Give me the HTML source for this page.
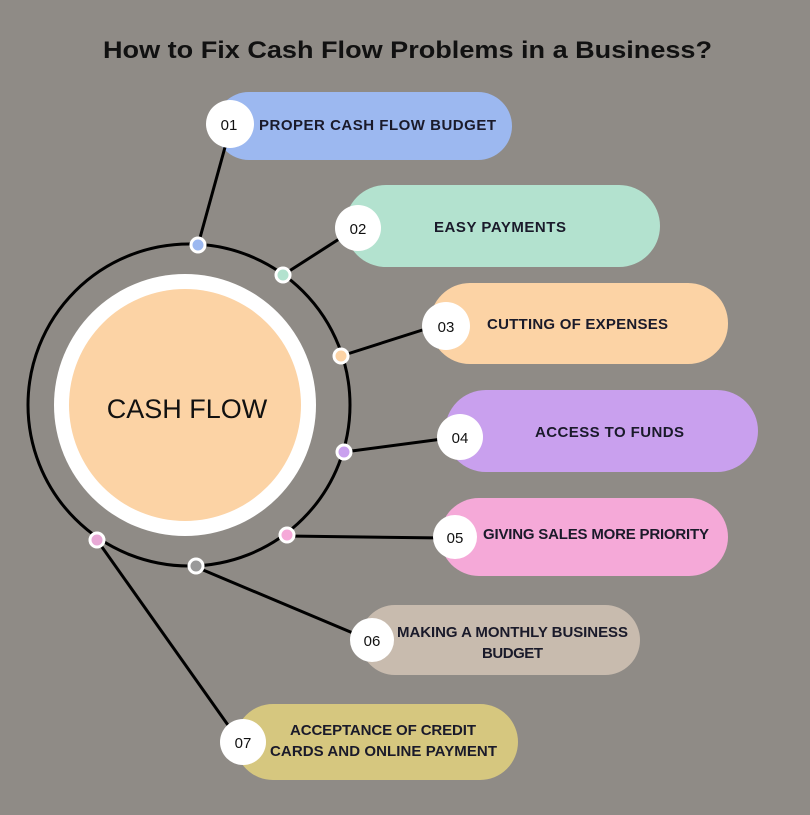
<!DOCTYPE html>
<html><head><style>
body{margin:0;width:810px;height:810px;background:#8f8b86;overflow:hidden;font-family:"Liberation Sans",sans-serif}
</style></head><body>
<svg width="810" height="810" viewBox="0 0 810 810" xmlns="http://www.w3.org/2000/svg" font-family="Liberation Sans, sans-serif" font-weight="bold">
<rect width="810" height="810" fill="#8f8b86"/>
<text x="103" y="58" font-size="24" fill="#111" textLength="609" lengthAdjust="spacingAndGlyphs">How to Fix Cash Flow Problems in a Business?</text>
<!-- pills -->
<rect x="215" y="92" width="297" height="68" rx="34" fill="#9cb8f0"/>
<rect x="345" y="185" width="315" height="82" rx="41" fill="#b3e2cf"/>
<rect x="430" y="283" width="298" height="81" rx="40" fill="#fcd3a5"/>
<rect x="445" y="390" width="313" height="82" rx="41" fill="#c9a0ee"/>
<rect x="440" y="498" width="288" height="78" rx="39" fill="#f5a9d8"/>
<rect x="360" y="605" width="280" height="70" rx="35" fill="#c8bbae"/>
<rect x="235" y="704" width="283" height="76" rx="38" fill="#d6c77f"/>
<!-- circles -->
<circle cx="189" cy="405" r="161" fill="none" stroke="#000" stroke-width="3"/>
<circle cx="185" cy="405" r="131" fill="#fff"/>
<circle cx="185" cy="405" r="116" fill="#fcd3a5"/>
<text x="187" y="418" text-anchor="middle" font-size="27" font-weight="normal" fill="#111">CASH FLOW</text>
<!-- connectors -->
<g stroke="#000" stroke-width="3">
<line x1="198" y1="245" x2="227" y2="140"/>
<line x1="283" y1="275" x2="350" y2="232"/>
<line x1="341" y1="356" x2="435" y2="326"/>
<line x1="344" y1="452" x2="450" y2="438"/>
<line x1="287" y1="536" x2="445" y2="538"/>
<line x1="196" y1="567" x2="360" y2="636"/>
<line x1="97" y1="540" x2="235" y2="735"/>
</g>
<!-- dots -->
<g stroke="#fff" stroke-width="3">
<circle cx="198" cy="245" r="7" fill="#9cb8f0"/>
<circle cx="283" cy="275" r="7" fill="#b3e2cf"/>
<circle cx="341" cy="356" r="7" fill="#fcd3a5"/>
<circle cx="344" cy="452" r="7" fill="#c9a0ee"/>
<circle cx="287" cy="535" r="7" fill="#f5a9d8"/>
<circle cx="196" cy="566" r="7" fill="#999"/>
<circle cx="97" cy="540" r="7" fill="#e8a8d5"/>
</g>
<!-- number circles -->
<g fill="#fff">
<circle cx="230" cy="124" r="24"/>
<circle cx="358" cy="228" r="23"/>
<circle cx="446" cy="326" r="24"/>
<circle cx="460" cy="437" r="23"/>
<circle cx="455" cy="537" r="22"/>
<circle cx="372" cy="640" r="22"/>
<circle cx="243" cy="742" r="23"/>
</g>
<g font-size="15" fill="#111" font-weight="normal" text-anchor="middle">
<text x="229" y="130">01</text>
<text x="358" y="234">02</text>
<text x="446" y="332">03</text>
<text x="460" y="443">04</text>
<text x="455" y="543">05</text>
<text x="372" y="646">06</text>
<text x="243" y="748">07</text>
</g>
<g font-size="15" fill="#1a1a2a" lengthAdjust="spacingAndGlyphs">
<text x="259" y="130" textLength="237">PROPER CASH FLOW BUDGET</text>
<text x="434" y="232" textLength="132">EASY PAYMENTS</text>
<text x="487" y="329" textLength="181">CUTTING OF EXPENSES</text>
<text x="535" y="437" textLength="149">ACCESS TO FUNDS</text>
<text x="483" y="539" textLength="226">GIVING SALES MORE PRIORITY</text>
<text x="397" y="637" textLength="231">MAKING A MONTHLY BUSINESS</text>
<text x="482" y="658" textLength="61">BUDGET</text>
<text x="290" y="735" textLength="186">ACCEPTANCE OF CREDIT</text>
<text x="270" y="756" textLength="227">CARDS AND ONLINE PAYMENT</text>
</g>
</svg>
</body></html>
